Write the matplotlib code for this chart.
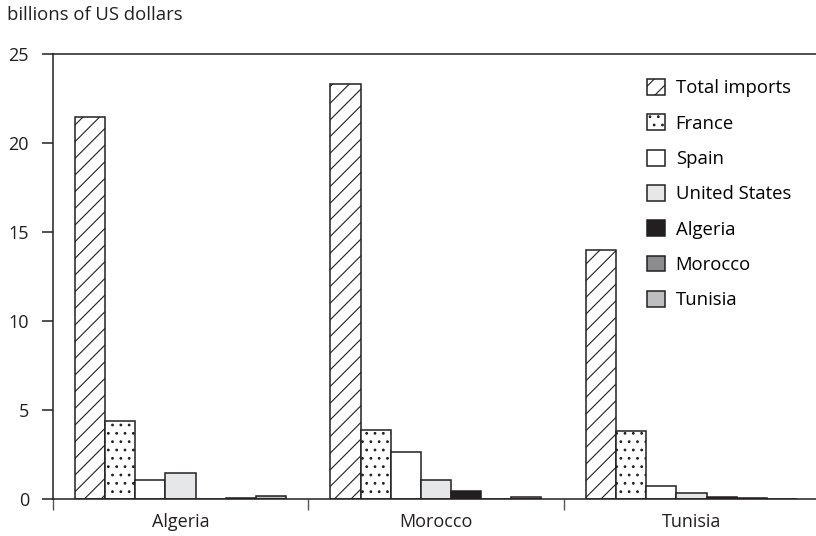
import matplotlib
matplotlib.use('Agg')
import matplotlib.pyplot as plt
import numpy as np

# Countries on the x axis
countries = ['Algeria', 'Morocco', 'Tunisia']

# Import values (billions of US dollars)
total_imports = [21.45, 23.3, 14.0]
france = [4.4, 3.85, 3.8]
spain = [1.05, 2.65, 0.75]
united_states = [1.45, 1.05, 0.35]
algeria = [0.0, 0.45, 0.12]
morocco = [0.05, 0.0, 0.08]
tunisia = [0.15, 0.12, 0.0]

series_names = ['Total imports', 'France', 'Spain', 'United States',
                'Algeria', 'Morocco', 'Tunisia']
series_values = [total_imports, france, spain, united_states,
                 algeria, morocco, tunisia]

# Fill colour and hatch for each series
fills = ['white', 'white', 'white', '#e6e7e8', '#231f20', '#8c8c8e', '#bcbec0']
hatches = ['//', '..', None, None, None, None, None]

edge = '#231f20'
plt.rcParams['font.family'] = ['Open Sans', 'DejaVu Sans']
plt.rcParams['hatch.linewidth'] = 0.8
plt.rcParams['hatch.color'] = edge

fig = plt.figure(figsize=(8.16, 5.36), dpi=100)
ax = fig.add_axes([52.7 / 816, 37 / 536, 1 - 52.7 / 816, 445 / 536])

x = np.arange(len(countries))
width = 0.118
n = len(series_names)

for i in range(n):
    offset = (i - (n - 1) / 2) * width
    ax.bar(x + offset, series_values[i], width, color=fills[i],
           edgecolor=edge, linewidth=1.1, hatch=hatches[i],
           label=series_names[i])

ax.set_xlim(-0.5, -0.5 + (816 - 52.7) / 255.5)
ax.set_ylim(0, 25)
ax.set_yticks([0, 5, 10, 15, 20, 25])

# Country labels in the middle, separator ticks between groups
ax.set_xticks(x)
ax.set_xticklabels(countries)
ax.set_xticks([-0.5, 0.5, 1.5], minor=True)
ax.tick_params(axis='x', which='major', length=0, pad=10, labelsize=13,
               colors='#231f20')
ax.tick_params(axis='x', which='minor', length=8, width=1.0, color='#555555')
ax.tick_params(axis='y', direction='out', length=8, width=1.1, pad=9,
               labelsize=13, color=edge, labelcolor='#231f20')

for side in ['left', 'bottom', 'top']:
    ax.spines[side].set_linewidth(1.1)
    ax.spines[side].set_color(edge)
ax.spines['right'].set_visible(False)

fig.text(7 / 816, 1 - 15 / 536, 'billions of US dollars', fontsize=13.3,
         va='center', ha='left', color='#231f20')

ax.legend(loc='upper left', bbox_to_anchor=(647 / 816, 1 - 79 / 536),
          bbox_transform=fig.transFigure, frameon=False, fontsize=13.3,
          handlelength=0.95, handleheight=0.95, handletextpad=0.6,
          labelspacing=0.92, borderpad=0, borderaxespad=0)

fig.savefig('out.png', dpi=100)
